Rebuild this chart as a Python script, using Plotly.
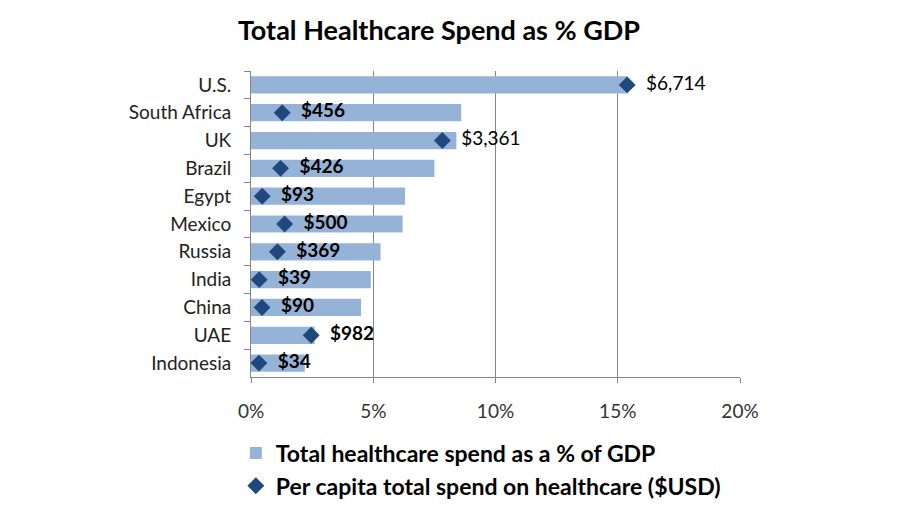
import plotly.graph_objects as go

countries = ["U.S.", "South Africa", "UK", "Brazil", "Egypt", "Mexico",
             "Russia", "India", "China", "UAE", "Indonesia"]
gdp_pct = [15.4, 8.6, 8.4, 7.5, 6.3, 6.2, 5.3, 4.9, 4.5, 2.6, 2.2]
per_capita = [6714, 456, 3361, 426, 93, 500, 369, 39, 90, 982, 34]

FONT = "Lato, 'Open Sans', sans-serif"

labels = ["\u00a0\u00a0" + ("<b>${:,}</b>".format(v) if v < 1000 else "${:,}".format(v))
          for v in per_capita]

fig = go.Figure()
fig.add_trace(go.Bar(
    y=countries, x=gdp_pct, orientation="h",
    marker=dict(color="#95B3D7", line=dict(width=0)),
    width=0.62,
    name="<b>Total healthcare spend as a % of GDP</b>",
    xaxis="x", yaxis="y",
))
fig.add_trace(go.Scatter(
    y=countries, x=per_capita, mode="markers+text",
    marker=dict(symbol="diamond", size=13, color="#1F497D"),
    text=labels, textposition="middle right",
    textfont=dict(size=19, color="#000000", family=FONT),
    name="<b>Per capita total spend on healthcare ($USD)</b>",
    xaxis="x2", yaxis="y", cliponaxis=False,
))

fig.update_layout(
    width=900, height=520,
    paper_bgcolor="white", plot_bgcolor="white",
    margin=dict(l=243, r=168, t=63, b=151, autoexpand=False),
    font=dict(family=FONT, color="#000000"),
    title=dict(text="<b>Total Healthcare Spend as % GDP</b>",
               x=431 / 900, xref="container", xanchor="center",
               y=1 - 23 / 520, yref="container", yanchor="middle",
               font=dict(size=27, family=FONT, color="#000000")),
    showlegend=True,
    legend=dict(orientation="v", x=-0.031, xanchor="left", y=-0.178, yanchor="top",
                font=dict(size=23, family=FONT, color="#000000"),
                bgcolor="rgba(0,0,0,0)", tracegroupgap=0, itemwidth=30),
    xaxis=dict(range=[0, 20], dtick=5, tickformat=".0f", ticksuffix="%",
               showgrid=True, gridcolor="#868686", gridwidth=1,
               showline=True, linecolor="#868686", linewidth=1,
               ticks="outside", ticklen=5, tickcolor="#868686",
               tickfont=dict(size=19, color="#333333"), zeroline=False,
               automargin=False),
    xaxis2=dict(range=[-110, 8760], overlaying="x", side="top", visible=False),
    yaxis=dict(range=[10.5, -0.5], tickson="boundaries", ticks="outside",
               ticklen=6, tickcolor="#868686", showline=True, linecolor="#868686",
               linewidth=1, tickfont=dict(size=19, color="#222222"), showgrid=False,
               automargin=False),
)
fig.update_layout(xaxis_ticklabelstandoff=12, yaxis_ticklabelstandoff=15)

fig.write_html("out.html")
